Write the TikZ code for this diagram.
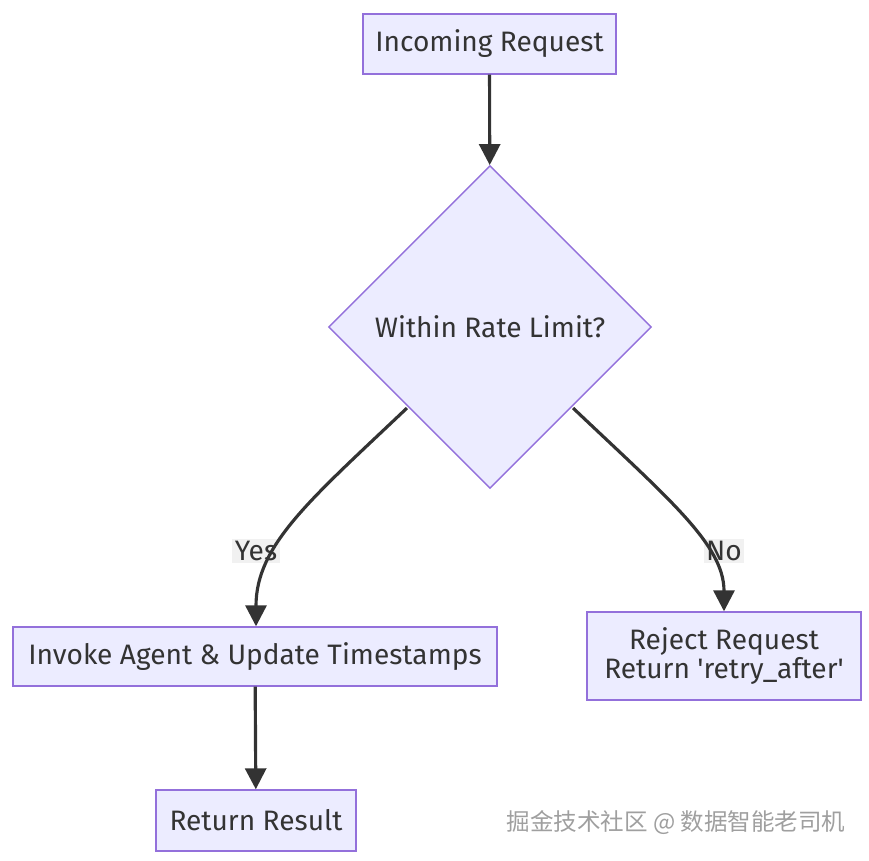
\documentclass[tikz,border=0pt]{standalone}
\usepackage{fontspec}
\setmainfont{Fira Sans}
\newfontfamily\cjkfont{Noto Sans CJK SC}
\usepackage{tikz}
\usetikzlibrary{positioning, shapes.geometric, arrows.meta}
\definecolor{MMFill}{HTML}{ECECFF}
\definecolor{MMBorder}{HTML}{9370DB}
\definecolor{MMLine}{HTML}{333333}
\definecolor{MMLabel}{HTML}{E8E8E8}
\begin{document}
\begin{tikzpicture}[x=0.02cm, y=-0.02cm,
  box/.style={rectangle, draw=MMBorder, fill=MMFill, line width=0.8pt, inner sep=0pt, text=MMLine, font=\fontsize{16}{17}\selectfont, align=center},
  decision/.style={diamond, draw=MMBorder, fill=MMFill, line width=0.8pt, inner sep=0pt, text=MMLine, font=\fontsize{16}{17}\selectfont, minimum width=6.46cm, minimum height=6.46cm},
  edgelabel/.style={fill=MMLabel, fill opacity=0.6, text opacity=1, text=MMLine, inner sep=1.5pt, font=\fontsize{16}{17}\selectfont},
  arrow/.style={-{Triangle[length=0.42cm, width=0.42cm]}, line width=1.8pt, MMLine}
]
\useasboundingbox (0,0) rectangle (869,861);
\node[box, minimum width=5.06cm, minimum height=1.2cm] (request) at (489.5,44) {Incoming Request};
\node[decision] (check) at (490,327) {Within Rate Limit?};
\node[box, minimum width=9.68cm, minimum height=1.18cm] (invoke) at (255,656.5) {Invoke Agent \& Update Timestamps};
\node[box, minimum width=5.48cm, minimum height=1.76cm] (reject) at (724,656) {Reject Request\\Return \textquotesingle retry\_after\textquotesingle};
\node[box, minimum width=4.0cm, minimum height=1.22cm] (result) at (256,820.5) {Return Result};

\node[edgelabel] (yes) at (256,551) {Yes};
\node[edgelabel] (no) at (724,551) {No};

\draw[arrow] (request) -- (check);
\draw[arrow] (check.south west) ++(-2,0) coordinate (yesstart)
  (yesstart) .. controls (310,500) and (256,545) .. (invoke.north -| 256,0);
\draw[arrow] (check.south east) ++(2,0) coordinate (nostart)
  (nostart) .. controls (670,500) and (724,545) .. (reject.north);
\draw[arrow] (invoke) -- (result);

\node[text=gray!75, font=\cjkfont\fontsize{13.4}{16}\selectfont] (mark) at (676,823) {掘金技术社区 @ 数据智能老司机};
\end{tikzpicture}
\end{document}
